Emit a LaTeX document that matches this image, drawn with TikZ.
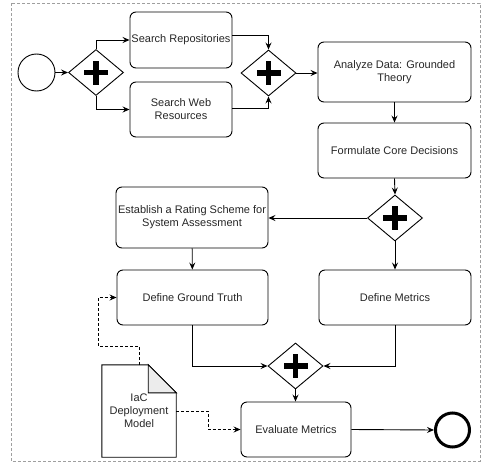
\documentclass[tikz,border=0pt]{standalone}
\usepackage{fontspec}
\setmainfont{Liberation Sans}
\usetikzlibrary{arrows.meta, shapes.geometric}
\tikzset{>={Stealth[width=6pt,length=7pt,inset=2.5pt]}}
\tikzset{
  task/.style={draw=black, line width=0.9pt, rounded corners=6pt, align=center,
    inner sep=0pt, text=black!85, font=\fontsize{11}{13}\selectfont},
  gate/.style={draw=black, line width=0.9pt, diamond, inner sep=0pt,
    minimum width=55pt, minimum height=46pt,
    path picture={
      \fill (path picture bounding box.center) +(-12pt,-2.6pt) rectangle +(12pt,2.6pt);
      \fill (path picture bounding box.center) +(-2.6pt,-12pt) rectangle +(2.6pt,12pt);}},
  flow/.style={->, line width=0.9pt},
  assoc/.style={->, line width=0.9pt, dash pattern=on 3pt off 2pt}
}

\begin{document}
\begin{tikzpicture}[x=1pt, y=-1pt]
  \useasboundingbox (0,0) rectangle (482,463);
  \draw[gray!75, line width=0.9pt, dash pattern=on 3pt off 2pt] (11,3) rectangle (480,461);

  \node[draw=black, circle, line width=0.9pt, inner sep=0pt, minimum size=37pt] (START) at (36.5,72.5) {};
  \node[gate] (GW1) at (96,72.5) {};
  \node[task, minimum width=102pt, minimum height=56pt] (REPO) at (181,40) {Search Repositories};
  \node[task, minimum width=102pt, minimum height=55pt] (WEB) at (181,109.5) {Search Web\\Resources};
  \node[gate] (GW2) at (268.5,73) {};
  \node[task, minimum width=153pt, minimum height=60pt] (ANALYZE) at (394.5,72) {Analyze Data: Grounded\\Theory};
  \node[task, minimum width=153pt, minimum height=55pt] (CORE) at (394.5,150.5) {Formulate Core Decisions};
  \node[gate] (GW3) at (395,218) {};
  \node[task, minimum width=152pt, minimum height=61pt] (RATING) at (192,217.5) {Establish a Rating Scheme for\\System Assessment};
  \node[task, minimum width=151pt, minimum height=55pt] (TRUTH) at (192.5,297.5) {Define Ground Truth};
  \node[task, minimum width=152pt, minimum height=55pt] (METRICS) at (395,297.5) {Define Metrics};
  \node[gate] (GW4) at (295.5,366) {};
  \node[task, minimum width=110pt, minimum height=55pt] (EVAL) at (296,429.5) {Evaluate Metrics};
  \node[draw=black, circle, line width=3pt, inner sep=0pt, minimum size=34pt] (END) at (452.5,430) {};

  \node[inner sep=0pt, minimum width=74pt, minimum height=92pt, align=center,
    text=black!85, font=\fontsize{11}{13}\selectfont] (DOC) at (139,411) {IaC\\Deployment\\Model};
  \draw[line width=0.9pt] (DOC.north west) -- ([xshift=-28pt]DOC.north east)
    -- ([yshift=-28pt]DOC.north east) -- (DOC.south east) -- (DOC.south west) -- cycle;
  \draw[line width=0.9pt, fill=gray!15] ([xshift=-28pt]DOC.north east)
    -- ([xshift=-28pt, yshift=-28pt]DOC.north east) -- ([yshift=-28pt]DOC.north east) -- cycle;

  \coordinate (K1) at (98,346);
  \coordinate (K2) at (208,411);

  \draw[flow] (START) -- (GW1);
  \draw[flow] (GW1.north) |- (REPO.west);
  \draw[flow] (GW1.south) |- (WEB.west);
  \draw[flow] ([yshift=5pt]REPO.east) -| (GW2.north);
  \draw[flow] ([yshift=1.5pt]WEB.east) -| (GW2.south);
  \draw[flow] (GW2.east) -- (ANALYZE.west |- GW2.east);
  \draw[flow] (ANALYZE) -- (CORE);
  \draw[flow] (CORE.south) -- (GW3.north);
  \draw[flow] (GW3.west) -- (RATING.east |- GW3.west);
  \draw[flow] (GW3.south) -- (METRICS.north);
  \draw[flow] (RATING) -- (TRUTH);
  \draw[flow] (TRUTH.south) |- (GW4.west);
  \draw[flow] (METRICS.south) |- (GW4.east);
  \draw[flow] (GW4.south) -- (EVAL.north -| GW4.south);
  \draw[flow] (EVAL.east) -- (END.west);

  \draw[assoc] (DOC.north) |- (K1) |- (TRUTH.west);
  \draw[assoc] (DOC.east) -- (K2) |- (EVAL.west);
\end{tikzpicture}
\end{document}
